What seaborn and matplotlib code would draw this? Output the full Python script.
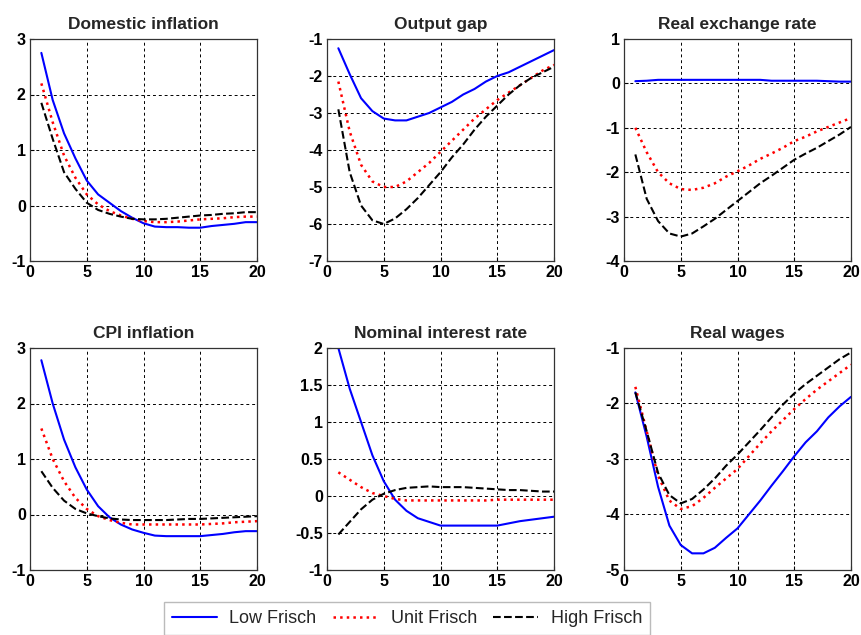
import numpy as np
import pandas as pd
import matplotlib
matplotlib.use("Agg")
import matplotlib.pyplot as plt
import seaborn as sns

periods = list(range(1, 21))

titles = ["Domestic inflation", "Output gap", "Real exchange rate",
          "CPI inflation", "Nominal interest rate", "Real wages"]
series_names = ["Low Frisch", "Unit Frisch", "High Frisch"]

dom_low = [2.75, 1.9, 1.3, 0.85, 0.45, 0.2, 0.05, -0.1, -0.22, -0.32, -0.38, -0.39, -0.39, -0.4, -0.4, -0.37, -0.35, -0.33, -0.3, -0.3]
dom_unit = [2.2, 1.5, 0.9, 0.5, 0.2, 0.02, -0.1, -0.18, -0.24, -0.28, -0.3, -0.3, -0.29, -0.27, -0.25, -0.24, -0.23, -0.21, -0.2, -0.2]
dom_high = [1.85, 1.2, 0.6, 0.3, 0.05, -0.08, -0.15, -0.2, -0.24, -0.25, -0.25, -0.24, -0.22, -0.2, -0.18, -0.17, -0.15, -0.14, -0.12, -0.12]

gap_low = [-1.25, -1.95, -2.6, -2.95, -3.15, -3.2, -3.2, -3.1, -3.0, -2.85, -2.7, -2.5, -2.35, -2.15, -2.0, -1.9, -1.75, -1.6, -1.45, -1.3]
gap_unit = [-2.15, -3.5, -4.4, -4.85, -5.0, -5.0, -4.85, -4.6, -4.35, -4.05, -3.75, -3.45, -3.15, -2.9, -2.65, -2.45, -2.25, -2.05, -1.85, -1.7]
gap_high = [-2.9, -4.6, -5.5, -5.9, -6.0, -5.85, -5.6, -5.3, -4.95, -4.6, -4.2, -3.85, -3.45, -3.1, -2.8, -2.5, -2.25, -2.05, -1.9, -1.75]

rer_low = [0.05, 0.06, 0.08, 0.08, 0.08, 0.08, 0.08, 0.08, 0.08, 0.08, 0.08, 0.08, 0.06, 0.06, 0.06, 0.06, 0.06, 0.05, 0.04, 0.04]
rer_unit = [-1.0, -1.55, -2.0, -2.25, -2.38, -2.4, -2.35, -2.25, -2.1, -1.98, -1.85, -1.7, -1.58, -1.45, -1.3, -1.2, -1.08, -0.98, -0.88, -0.78]
rer_high = [-1.6, -2.6, -3.1, -3.38, -3.45, -3.38, -3.22, -3.05, -2.85, -2.65, -2.45, -2.25, -2.08, -1.9, -1.72, -1.58, -1.45, -1.3, -1.15, -0.98]

cpi_low = [2.78, 2.0, 1.35, 0.85, 0.45, 0.15, -0.05, -0.18, -0.27, -0.33, -0.38, -0.39, -0.39, -0.39, -0.39, -0.37, -0.35, -0.32, -0.3, -0.3]
cpi_unit = [1.55, 1.0, 0.6, 0.3, 0.1, -0.03, -0.1, -0.15, -0.18, -0.18, -0.18, -0.18, -0.18, -0.18, -0.18, -0.17, -0.16, -0.14, -0.13, -0.12]
cpi_high = [0.78, 0.48, 0.25, 0.1, 0.02, -0.03, -0.07, -0.09, -0.1, -0.1, -0.1, -0.1, -0.09, -0.08, -0.08, -0.07, -0.06, -0.05, -0.04, -0.03]

nir_low = [2.0, 1.45, 1.0, 0.55, 0.2, -0.05, -0.2, -0.3, -0.35, -0.4, -0.4, -0.4, -0.4, -0.4, -0.4, -0.37, -0.34, -0.32, -0.3, -0.28]
nir_unit = [0.32, 0.22, 0.12, 0.04, 0.0, -0.04, -0.06, -0.06, -0.06, -0.06, -0.06, -0.06, -0.06, -0.06, -0.05, -0.05, -0.05, -0.05, -0.05, -0.05]
nir_high = [-0.52, -0.35, -0.18, -0.05, 0.03, 0.08, 0.11, 0.12, 0.13, 0.12, 0.12, 0.12, 0.11, 0.1, 0.09, 0.08, 0.08, 0.07, 0.06, 0.06]

rw_low = [-1.8, -2.6, -3.5, -4.2, -4.55, -4.7, -4.7, -4.6, -4.42, -4.25, -4.0, -3.75, -3.48, -3.22, -2.95, -2.7, -2.5, -2.25, -2.05, -1.88]
rw_unit = [-1.7, -2.5, -3.3, -3.75, -3.9, -3.85, -3.7, -3.52, -3.35, -3.18, -2.95, -2.72, -2.5, -2.3, -2.1, -1.92, -1.75, -1.6, -1.45, -1.3]
rw_high = [-1.8, -2.5, -3.25, -3.65, -3.8, -3.72, -3.55, -3.35, -3.12, -2.92, -2.7, -2.48, -2.25, -2.02, -1.82, -1.65, -1.5, -1.35, -1.2, -1.08]

panel_data = [
    (dom_low, dom_unit, dom_high),
    (gap_low, gap_unit, gap_high),
    (rer_low, rer_unit, rer_high),
    (cpi_low, cpi_unit, cpi_high),
    (nir_low, nir_unit, nir_high),
    (rw_low, rw_unit, rw_high),
]
ylims = [(-1, 3), (-7, -1), (-4, 1), (-1, 3), (-1, 2), (-5, -1)]
yticks = [[-1, 0, 1, 2, 3], [-7, -6, -5, -4, -3, -2, -1], [-4, -3, -2, -1, 0, 1],
          [-1, 0, 1, 2, 3], [-1, -0.5, 0, 0.5, 1, 1.5, 2], [-5, -4, -3, -2, -1]]
ytick_labels = [["-1", "0", "1", "2", "3"], ["-7", "-6", "-5", "-4", "-3", "-2", "-1"],
                ["-4", "-3", "-2", "-1", "0", "1"], ["-1", "0", "1", "2", "3"],
                ["-1", "-0.5", "0", "0.5", "1", "1.5", "2"], ["-5", "-4", "-3", "-2", "-1"]]
xticks = [0, 5, 10, 15, 20]

sns.set_style("ticks")
plt.rcParams['font.family'] = ['Liberation Sans', 'DejaVu Sans']

colors = ["#0000ff", "#ff0000", "#000000"]
styles = ["-", ":", "--"]
widths = [1.5, 1.8, 1.5]

fig = plt.figure(figsize=(8.61, 6.35), dpi=100)
lefts = [30, 327, 624]
tops = [39, 348]
w_px, h_px = 227, 222

handles = []
for i, (title, data) in enumerate(zip(titles, panel_data)):
    r, c = divmod(i, 3)
    l = lefts[c] / 861
    b = 1 - (tops[r] + h_px) / 635
    ax = fig.add_axes([l, b, w_px / 861, h_px / 635])
    df = pd.DataFrame({"t": periods * 3,
                       "v": list(data[0]) + list(data[1]) + list(data[2]),
                       "s": [series_names[0]] * 20 + [series_names[1]] * 20 + [series_names[2]] * 20})
    for k, name in enumerate(series_names):
        sub = df[df["s"] == name]
        sns.lineplot(data=sub, x="t", y="v", ax=ax, color=colors[k],
                     linestyle=styles[k], linewidth=widths[k], label=name, legend=False)
    ax.set_xlim(0, 20)
    ax.set_ylim(*ylims[i])
    ax.set_xticks(xticks)
    ax.set_xticklabels([str(x) for x in xticks], fontweight="bold", fontsize=11.5)
    ax.set_yticks(yticks[i])
    ax.set_yticklabels(ytick_labels[i], fontweight="bold", fontsize=11.5)
    ax.set_xlabel("")
    ax.set_ylabel("")
    ax.grid(True, color="black", linestyle=(0, (3, 3)), linewidth=0.7)
    ax.set_axisbelow(True)
    ax.tick_params(direction="in", length=3, pad=3, colors="black")
    for sp in ax.spines.values():
        sp.set_visible(True)
        sp.set_color("#333333")
        sp.set_linewidth(0.9)
    ax.set_title(title, fontweight="bold", fontsize=12.5, pad=7)
    if i == 0:
        handles = ax.get_lines()[:3]

leg = fig.legend(handles, series_names, loc="upper center", ncol=3,
                 bbox_to_anchor=(0.4727, 1 - 602 / 635), frameon=True, fancybox=False,
                 fontsize=13, handlelength=2.5, columnspacing=0.9, handletextpad=0.7,
                 borderpad=0.45, borderaxespad=0)
leg.get_frame().set_edgecolor("#aaaaaa")
leg.get_frame().set_linewidth(1.0)

fig.savefig("out.png", dpi=100)
